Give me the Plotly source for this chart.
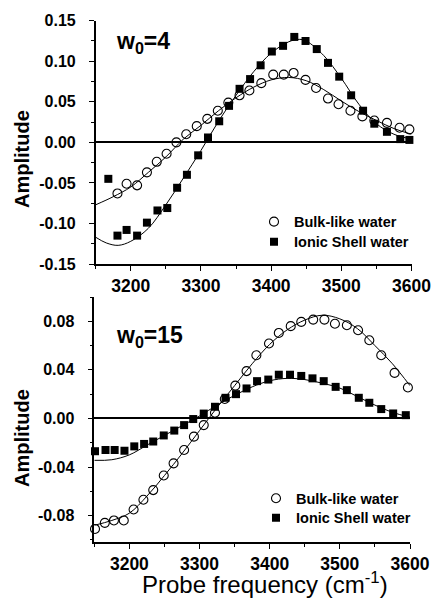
import plotly.graph_objects as go

# ---------------- data: top panel (w0 = 4) ----------------
top_bulk_x = [3181, 3194, 3209, 3223, 3237, 3251, 3265, 3279, 3294, 3309, 3324, 3339, 3355, 3369,
              3386, 3403, 3418, 3432, 3449, 3464, 3481, 3496, 3513, 3530, 3547, 3565, 3583, 3597]
top_bulk_y = [-0.063, -0.051, -0.053, -0.037, -0.024, -0.014, 0.000, 0.010, 0.020, 0.029, 0.039, 0.049,
              0.058, 0.064, 0.073, 0.0835, 0.0835, 0.0856, 0.077, 0.067, 0.054, 0.047, 0.039, 0.032,
              0.027, 0.024, 0.018, 0.016]
top_ion_x = [3168, 3181, 3194, 3209, 3223, 3238, 3252, 3266, 3280, 3296, 3310, 3326, 3340, 3355, 3370,
             3385, 3401, 3417, 3433, 3449, 3465, 3481, 3497, 3514, 3531, 3547, 3565, 3584, 3597]
top_ion_y = [-0.045, -0.115, -0.108, -0.115, -0.099, -0.084, -0.081, -0.056, -0.040, -0.016, 0.006,
             0.026, 0.045, 0.066, 0.078, 0.095, 0.112, 0.119, 0.130, 0.125, 0.115, 0.098, 0.081,
             0.058, 0.039, 0.023, 0.013, 0.004, 0.003]

top_bulk_fit_x = [3150, 3175, 3200, 3225, 3250, 3275, 3300, 3325, 3350, 3375, 3400, 3425, 3450,
                  3475, 3500, 3525, 3550, 3575, 3600]
top_bulk_fit_y = [-0.077, -0.067, -0.055, -0.037, -0.018, 0.004, 0.021, 0.039, 0.055, 0.068, 0.077,
                  0.080, 0.076, 0.065, 0.051, 0.038, 0.027, 0.017, 0.010]
top_ion_fit_x = [3150, 3165, 3182, 3200, 3225, 3250, 3275, 3300, 3325, 3350, 3375, 3400, 3425, 3440,
                 3450, 3475, 3500, 3525, 3550, 3575, 3600]
top_ion_fit_y = [-0.117, -0.124, -0.127, -0.122, -0.106, -0.077, -0.044, -0.010, 0.026, 0.058, 0.087,
                 0.110, 0.124, 0.127, 0.125, 0.107, 0.079, 0.047, 0.023, 0.010, 0.004]

# ---------------- data: bottom panel (w0 = 15) ----------------
bot_bulk_x = [3151, 3165, 3178, 3192, 3206, 3220, 3234, 3249, 3263, 3278, 3292, 3306, 3322, 3336, 3351,
              3367, 3381, 3399, 3413, 3430, 3445, 3462, 3478, 3493, 3510, 3526, 3542, 3559, 3578, 3597]
bot_bulk_y = [-0.091, -0.086, -0.084, -0.084, -0.075, -0.067, -0.059, -0.047, -0.037, -0.026, -0.015,
              -0.0055, 0.0047, 0.016, 0.027, 0.039, 0.052, 0.0617, 0.0704, 0.076, 0.0795, 0.0814,
              0.0814, 0.078, 0.0767, 0.0726, 0.0644, 0.052, 0.0375, 0.0255]
bot_ion_x = [3151, 3166, 3179, 3193, 3207, 3221, 3234, 3249, 3264, 3278, 3291, 3306, 3322, 3337, 3352,
             3367, 3382, 3398, 3413, 3429, 3445, 3461, 3477, 3494, 3510, 3527, 3542, 3559, 3576, 3594]
bot_ion_y = [-0.027, -0.026, -0.026, -0.0266, -0.023, -0.021, -0.019, -0.014, -0.010, -0.0055, -0.0005,
             0.004, 0.0096, 0.017, 0.020, 0.0247, 0.0307, 0.032, 0.036, 0.036, 0.035, 0.033, 0.0307,
             0.026, 0.0233, 0.017, 0.0129, 0.0077, 0.0041, 0.0027]

bot_fit_x = [3150, 3175, 3200, 3225, 3250, 3275, 3300, 3325, 3350, 3375, 3400, 3425, 3450, 3475,
             3500, 3525, 3550, 3575, 3600]
bot_bulk_fit_y = [-0.088, -0.084, -0.078, -0.064, -0.047, -0.029, -0.010, 0.009, 0.027, 0.045, 0.061,
                  0.073, 0.081, 0.085, 0.082, 0.074, 0.060, 0.045, 0.027]
bot_ion_fit_y = [-0.0345, -0.034, -0.030, -0.022, -0.014, -0.006, 0.002, 0.011, 0.019, 0.026, 0.031,
                 0.033, 0.032, 0.029, 0.025, 0.018, 0.011, 0.005, 0.001]

# ---------------- ticks / labels ----------------
x_ticks = [3200, 3300, 3400, 3500, 3600]
x_tick_text = ["3200", "3300", "3400", "3500", "3600"]
top_y_ticks = [-0.15, -0.10, -0.05, 0.00, 0.05, 0.10, 0.15]
top_y_text = ["-0.15", "-0.10", "-0.05", "0.00", "0.05", "0.10", "0.15"]
bot_y_ticks = [-0.08, -0.04, 0.00, 0.04, 0.08]
bot_y_text = ["-0.08", "-0.04", "0.00", "0.04", "0.08"]
series_names = ["Bulk-like water", "Ionic Shell water"]
panel_titles = ["w<sub>0</sub>=4", "w<sub>0</sub>=15"]
x_title = "Probe frequency (cm<sup>-1</sup>)"
y_title = "Amplitude"

FONT = "Liberation Sans, Arial, sans-serif"
W, H = 438, 602

fig = go.Figure()

def add_panel(xa, ya, leg_b, leg_i, bx, by, ix, iy, fbx, fby, fix, fiy):
    fig.add_trace(go.Scatter(x=fbx, y=fby, mode="lines", line=dict(color="black", width=1, shape="spline"),
                             xaxis=xa, yaxis=ya, showlegend=False, hoverinfo="skip"))
    fig.add_trace(go.Scatter(x=fix, y=fiy, mode="lines", line=dict(color="black", width=1, shape="spline"),
                             xaxis=xa, yaxis=ya, showlegend=False, hoverinfo="skip"))
    fig.add_trace(go.Scatter(x=bx, y=by, mode="markers", name=series_names[0], legend=leg_b,
                             marker=dict(symbol="circle-open", size=9, color="black", line=dict(width=1.1)),
                             xaxis=xa, yaxis=ya, cliponaxis=False))
    fig.add_trace(go.Scatter(x=ix, y=iy, mode="markers", name=series_names[1], legend=leg_i,
                             marker=dict(symbol="square", size=8, color="black"),
                             xaxis=xa, yaxis=ya, cliponaxis=False))

add_panel("x", "y", "legend", "legend2", top_bulk_x, top_bulk_y, top_ion_x, top_ion_y,
          top_bulk_fit_x, top_bulk_fit_y, top_ion_fit_x, top_ion_fit_y)
add_panel("x2", "y2", "legend3", "legend4", bot_bulk_x, bot_bulk_y, bot_ion_x, bot_ion_y,
          bot_fit_x, bot_bulk_fit_y, bot_fit_x, bot_ion_fit_y)

tickfont = dict(family=FONT, size=16, color="black", weight="bold")

def xaxis(dom, anchor):
    return dict(domain=dom, anchor=anchor, range=[3150, 3600], showline=True, linecolor="black", linewidth=1.5,
                ticks="outside", ticklen=5, tickwidth=1.3, tickcolor="black",
                tickvals=x_ticks, ticktext=x_tick_text, tickfont=dict(tickfont, size=17.5),
                minor=dict(dtick=50, tick0=3150, ticks="outside", ticklen=3, tickwidth=1, tickcolor="black"),
                showgrid=False, zeroline=False, mirror=False, automargin=False)

def yaxis(dom, anchor, rng, tv, tt, minor_dtick):
    return dict(domain=dom, anchor=anchor, range=rng, showline=True, linecolor="black", linewidth=1.5,
                ticks="outside", ticklen=5, tickwidth=1.3, tickcolor="black",
                tickvals=tv, ticktext=tt, tickfont=tickfont, ticklabelstandoff=10,
                minor=dict(dtick=minor_dtick, tick0=0, ticks="outside", ticklen=3, tickwidth=1, tickcolor="black"),
                showgrid=False, zeroline=True, zerolinecolor="black", zerolinewidth=1.5, mirror=False,
                automargin=False)

def legend(xpx, ytop):
    return dict(x=xpx / W, y=1 - ytop / H, xanchor="left", yanchor="top", bgcolor="rgba(0,0,0,0)",
                font=dict(family=FONT, size=14.5, weight="bold"), tracegroupgap=0)

fig.update_layout(
    width=W, height=H, margin=dict(l=0, r=0, t=0, b=0, autoexpand=False),
    paper_bgcolor="white", plot_bgcolor="white",
    font=dict(family=FONT, color="black"),
    xaxis=xaxis([95.7 / W, 411.5 / W], "y"),
    yaxis=yaxis([1 - 264 / H, 1 - 20.7 / H], "x", [-0.15, 0.15], top_y_ticks, top_y_text, 0.025),
    xaxis2=xaxis([94.3 / W, 410 / W], "y2"),
    yaxis2=yaxis([1 - 542.3 / H, 1 - 297 / H], "x2", [-0.102, 0.100], bot_y_ticks, bot_y_text, 0.02),
    legend=legend(254, 205.7),
    legend2=legend(254, 225.7),
    legend3=legend(256, 482.3),
    legend4=legend(256, 501.7),
)

ann_font = dict(family=FONT, size=23, color="black", weight="bold")
fig.add_annotation(text=panel_titles[0], xref="paper", yref="paper", x=114 / W, y=1 - 42 / H,
                   xanchor="left", yanchor="middle", showarrow=False, font=ann_font)
fig.add_annotation(text=panel_titles[1], xref="paper", yref="paper", x=114 / W, y=1 - 337 / H,
                   xanchor="left", yanchor="middle", showarrow=False, font=ann_font)
fig.add_annotation(text=y_title, xref="paper", yref="paper", x=22 / W, y=1 - 159 / H, textangle=-90,
                   xanchor="center", yanchor="middle", showarrow=False,
                   font=dict(family=FONT, size=20, color="black", weight="bold"))
fig.add_annotation(text=y_title, xref="paper", yref="paper", x=22 / W, y=1 - 438 / H, textangle=-90,
                   xanchor="center", yanchor="middle", showarrow=False,
                   font=dict(family=FONT, size=20, color="black", weight="bold"))
fig.add_annotation(text=x_title, xref="paper", yref="paper", x=265 / W, y=1 - 583 / H,
                   xanchor="center", yanchor="middle", showarrow=False,
                   font=dict(family=FONT, size=24, color="black"))

fig.write_html("out.html", config={"displayModeBar": False},
               post_script="document.body.style.margin='0';document.body.style.overflow='hidden';")
